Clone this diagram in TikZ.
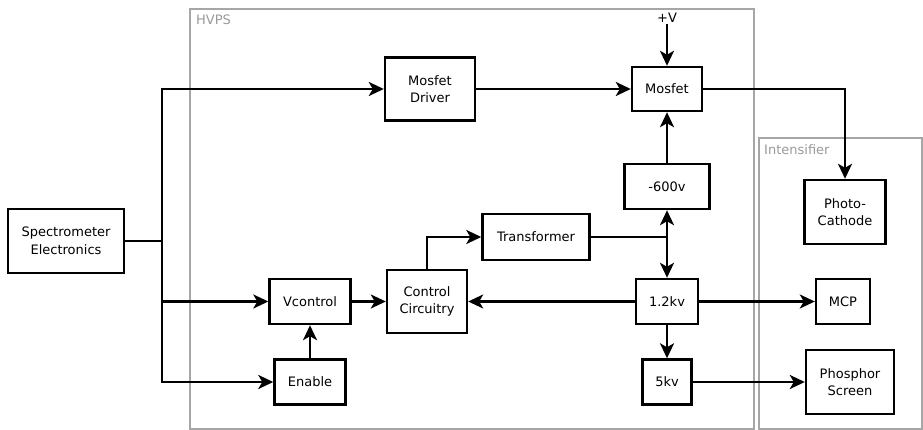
\documentclass[tikz,border=0pt]{standalone}
\usepackage{fontspec}
\setmainfont{DejaVu Sans}
\usetikzlibrary{arrows.meta}

\begin{document}
\begin{tikzpicture}[x=1pt,y=-1pt,
    line width=2.4pt,
    >={Stealth[length=15pt,width=14pt,inset=4pt]},
    block/.style={draw,fill=white,align=center,inner sep=0pt,
        font=\fontsize{13}{17.5}\selectfont},
    group/.style={draw=black!35,line width=1.8pt},
    grouplabel/.style={anchor=north west,inner sep=0pt,text=black!40,
        font=\fontsize{13}{15}\selectfont}]
    \useasboundingbox (0,0) rectangle (923,430);

    % enclosures
    \draw[group] (190,9) rectangle (754,429);
    \draw[group] (759,138) rectangle (922,429);
    \node[grouplabel] (hvpslbl) at (195,14) {HVPS};
    \node[grouplabel] (intlbl) at (763,143) {Intensifier};

    \node[block, minimum width=116pt, minimum height=64pt] (spec) at (66,241) {Spectrometer\\Electronics};
    \node[block, minimum width=90pt, minimum height=63pt] (mdrv) at (430,89) {Mosfet\\Driver};
    \node[block, minimum width=70pt, minimum height=44pt] (mosf) at (667,89) {Mosfet};
    \node[font=\fontsize{13}{15}\selectfont,inner sep=0pt] (pv) at (667,18) {+V};
    \node[block, minimum width=85pt, minimum height=45pt] (m600) at (667,186.5) {-600v};
    \node[block, minimum width=81pt, minimum height=64pt] (phc) at (845,212) {Photo-\\Cathode};
    \node[block, minimum width=107pt, minimum height=46pt] (trf) at (536,237) {Transformer};
    \node[block, minimum width=80pt, minimum height=63pt] (ctrl) at (427,301.5) {Control\\Circuitry};
    \node[block, minimum width=81pt, minimum height=45pt] (vctl) at (310,301.5) {Vcontrol};
    \node[block, minimum width=71pt, minimum height=45pt] (enab) at (310,382) {Enable};
    \node[block, minimum width=62pt, minimum height=45pt] (k12) at (667,301.5) {1.2kv};
    \node[block, minimum width=54pt, minimum height=45pt] (mcp) at (843,301.5) {MCP};
    \node[block, minimum width=49pt, minimum height=45pt] (k5) at (667,382) {5kv};
    \node[block, minimum width=88pt, minimum height=64pt] (phos) at (850,382) {Phosphor\\Screen};

    \coordinate (split) at (162,241);
    \coordinate (tj) at (667,237);

    \draw (spec.east) -- (split);
    \draw[->] (split) |- (mdrv.west);
    \draw[->] (split) |- (vctl.west);
    \draw[->] (split) |- (enab.west);
    \draw[->] (mosf.east) -| (phc.north);
    \draw[->] (ctrl.north) |- (trf.west);
    \draw (trf.east) -- (tj);

    \path[->]
        (pv) edge (mosf)
        (mdrv) edge (mosf)
        (m600) edge (mosf)
        (tj) edge (m600.south)
        (tj) edge (k12.north)
        (enab) edge (vctl)
        (vctl) edge (ctrl)
        (k12) edge (ctrl)
        (k12) edge (mcp)
        (k12) edge (k5)
        (k5) edge (phos);
\end{tikzpicture}
\end{document}
